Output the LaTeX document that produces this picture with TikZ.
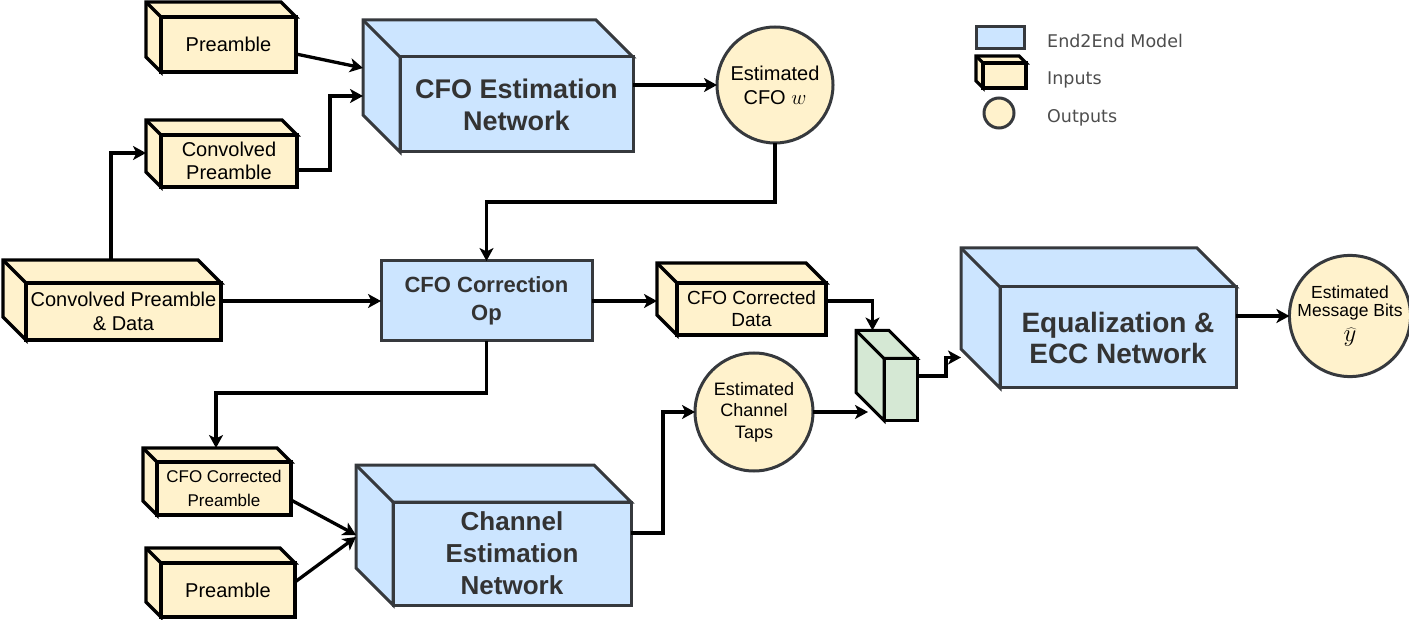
\documentclass[tikz,border=0pt]{standalone}
\usepackage{fontspec}
\setmainfont{Liberation Sans}
\newfontfamily\legendfont{DejaVu Sans}
\usetikzlibrary{arrows.meta,backgrounds}

\definecolor{modelblue}{HTML}{CCE5FF}
\definecolor{modelline}{HTML}{36393D}
\definecolor{modeltext}{HTML}{333333}
\definecolor{inputyellow}{HTML}{FFF2CC}
\definecolor{mergegreen}{HTML}{D5E8D4}
\definecolor{legendgray}{HTML}{4D4D4D}

\newcommand{\fsize}[2]{\fontsize{#1}{#2}\selectfont}

\tikzset{
  netbox/.style={draw=modelline, fill=modelblue, line width=3pt, outer sep=0pt, inner sep=0pt, align=center, text=modeltext},
  inbox/.style={draw=black, fill=inputyellow, line width=3.2pt, outer sep=0pt, inner sep=0pt, align=center},
  mergebox/.style={draw=black, fill=mergegreen, line width=3pt, outer sep=0pt, inner sep=0pt},
  outcirc/.style={circle, draw=modelline, fill=inputyellow, line width=3pt, outer sep=0pt, inner sep=0pt, align=center},
  legtext/.style={anchor=west, inner sep=0pt, text=legendgray, font=\legendfont\fsize{17.5}{21}},
  arr/.style={-{Stealth[length=13pt,width=14pt,inset=3.5pt]}, line width=3.3pt},
}

% top and left faces of a box, drawn behind its front face
\newcommand{\extrude}[3]{%
  \begin{scope}[on background layer]
    \draw[#3] ([shift={(-#2,-#2)}]#1.north west) -- ([shift={(-#2,-#2)}]#1.north east) -- (#1.north east) -- (#1.north west) -- (#1.south west) -- ([shift={(-#2,-#2)}]#1.south west) -- cycle;
    \draw[#3] (#1.north west) -- ([shift={(-#2,-#2)}]#1.north west);
  \end{scope}}

\begin{document}
\begin{tikzpicture}[x=1pt,y=-1pt]
\useasboundingbox (0,0) rectangle (1409,620);

% inputs
\node[inbox, minimum width=135, minimum height=55, font=\fsize{20}{24}] (pre1) at (228.5,44.5) {Preamble};
\node[inbox, minimum width=136, minimum height=52, font=\fsize{20}{23.5}] (cpre) at (229,161) {Convolved\\Preamble};
\node[inbox, minimum width=195, minimum height=57, font=\fsize{20}{24}] (cpd) at (123.5,311.5) {Convolved Preamble\\\& Data};
\node[inbox, minimum width=149, minimum height=52, font=\fsize{19}{22}] (cdat) at (751.5,309) {CFO Corrected\\Data};
\node[inbox, minimum width=134, minimum height=53, font=\fsize{17}{24}] (cpre2) at (224,488.5) {CFO Corrected\\Preamble};
\node[inbox, minimum width=134, minimum height=54, font=\fsize{20}{24}] (pre2) at (228,590) {Preamble};
\extrude{pre1}{15}{inbox}
\extrude{cpre}{15}{inbox}
\extrude{cpd}{23}{inbox}
\extrude{cdat}{20}{inbox}
\extrude{cpre2}{14}{inbox}
\extrude{pre2}{15}{inbox}

% networks
\node[netbox, minimum width=233, minimum height=95, font=\bfseries\fsize{27}{32}] (cfoest) at (516.5,104.5) {CFO Estimation\\Network};
\node[netbox, minimum width=211, minimum height=80, font=\bfseries\fsize{22}{28}] (cfocor) at (486.5,301) {CFO Correction\\Op};
\node[netbox, minimum width=238, minimum height=103, font=\bfseries\fsize{26}{32}] (chest) at (512,553.5) {Channel\\Estimation\\Network};
\node[netbox, minimum width=236, minimum height=101, font=\bfseries\fsize{28}{31}] (eq) at (1118,337.5) {Equalization \&\\ECC Network};
\node[mergebox, minimum width=33, minimum height=62] (cat) at (900.5,389.5) {};
\extrude{cfoest}{37}{netbox}
\extrude{chest}{37}{netbox}
\extrude{eq}{39}{netbox}
\extrude{cat}{28}{mergebox}

% outputs
\node[outcirc, minimum size=116, font=\fsize{20}{24}] (ecfo) at (775,85) {Estimated\\CFO $w$};
\node[outcirc, minimum size=118, font=\fsize{18}{21.5}] (etaps) at (754,412) {Estimated\\Channel\\Taps};
\node[outcirc, minimum size=117, font=\fsize{17.5}{18.5}] (emb) at (1350,316) {Estimated\\Message Bits\\[6pt]{\fsize{25}{25}$\widehat{y}$}};

% legend
\node[netbox, minimum width=48, minimum height=22] (lnet) at (1000,38) {};
\node[inbox, minimum width=43, minimum height=25] (linp) at (1004.5,75.5) {};
\extrude{linp}{7}{inbox}
\node[outcirc, minimum size=30] (lout) at (999,113) {};
\node[legtext] (tnet) at (1047,41) {End2End Model};
\node[legtext] (tinp) at (1047,80) {Inputs};
\node[legtext] (tout) at (1047,118) {Outputs};

% connectors
\draw[arr] ([shift={(0,9.5)}]pre1.east) -- ([shift={(-37,-36.5)}]cfoest.west);
\draw[arr] ([shift={(0,9)}]cpre.east) -- ++(33,0) |- ([shift={(-37,-8.5)}]cfoest.west);
\draw[arr] ([shift={(-12.5,-23)}]cpd.north) |- ([shift={(-15,-8)}]cpre.west);
\draw[arr] ([shift={(0,-10.5)}]cpd.east) -- (cfocor.west);
\draw[arr] ([shift={(0,-19.5)}]cfoest.east) -- (ecfo.west);
\draw[arr] (ecfo.south) -- ++(0,59) -| (cfocor.north);
\draw[arr] (cfocor.east) -- ([shift={(-20,-8)}]cdat.west);
\draw[arr] ([shift={(0,-8)}]cdat.east) -| ([shift={(-28,-28)}]cat.north);
\draw[arr] (etaps.east) -- ([shift={(-16,22.5)}]cat.west);
\draw[arr] ([shift={(0,-13.5)}]cat.east) -- ++(29,0) |- ([shift={(-39,20)}]eq.west);
\draw[arr] ([shift={(0,-21.5)}]eq.east) -- (emb.west);
\draw[arr] (cfocor.south) -- ++(0,52) -| ([shift={(-8,-14)}]cpre2.north);
\draw[arr] ([shift={(0,11.5)}]cpre2.east) -- ([shift={(-37,-18.5)}]chest.west);
\draw[arr] ([shift={(0,-8)}]pre2.east) -- ([shift={(-37,-16.5)}]chest.west);
\draw[arr] ([shift={(0,-20.5)}]chest.east) -- ++(32,0) |- (etaps.west);
\end{tikzpicture}
\end{document}
